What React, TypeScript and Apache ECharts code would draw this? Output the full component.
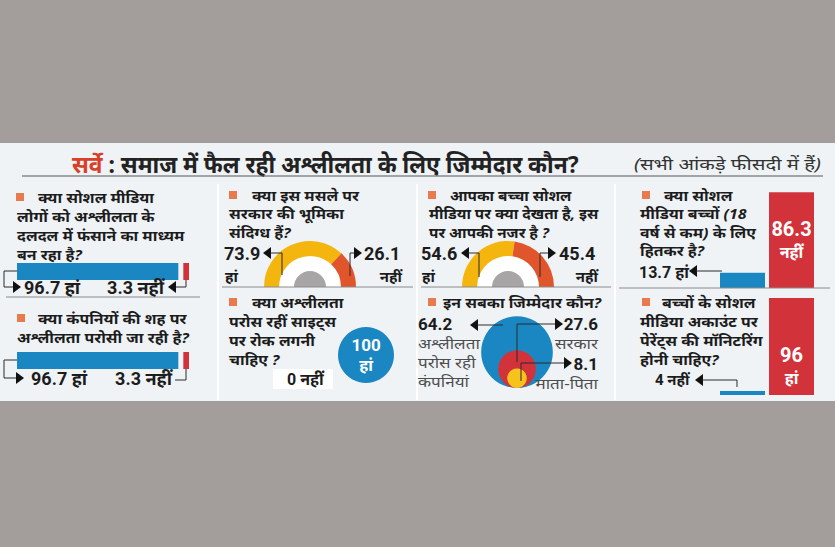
import React, { useEffect, useRef } from 'react';
import * as echarts from 'echarts';

// ---------- data ----------
const titleLead = 'सर्वे';
const titleMain = 'समाज में फैल रही अश्लीलता के लिए जिम्मेदार कौन?';
const noteText = '(सभी आंकड़े फीसदी में हैं)';
const yesLabel = 'हां';
const noLabel = 'नहीं';

const q1Lines = ['क्या सोशल मीडिया', 'लोगों को अश्लीलता के', 'दलदल में फंसाने का माध्यम', 'बन रहा है?'];
const q1Values = [96.7, 3.3];
const q2Lines = ['क्या कंपनियों की शह पर', 'अश्लीलता परोसी जा रही है?'];
const q2Values = [96.7, 3.3];
const q3Lines = ['क्या इस मसले पर', 'सरकार की भूमिका', 'संदिग्ध हैं?'];
const q3Values = [73.9, 26.1];
const q4Lines = ['क्या अश्लीलता', 'परोस रहीं साइट्स', 'पर रोक लगनी', 'चाहिए ?'];
const q4Values = [100, 0];
const q5Lines = ['आपका बच्चा सोशल', 'मीडिया पर क्या देखता है, इस', 'पर आपकी नजर है ?'];
const q5Values = [54.6, 45.4];
const q6Lines = ['इन सबका जिम्मेदार कौन?'];
const q6Values = [64.2, 27.6, 8.1];
const q6Names = [['अश्लीलता', 'परोस रही', 'कंपनियां'], ['सरकार'], ['माता-पिता']];
const q7Lines = ['क्या सोशल', 'मीडिया बच्चों (18', 'वर्ष से कम) के लिए', 'हितकर है?'];
const q7Cats = [yesLabel, noLabel];
const q7Values = [13.7, 86.3];
const q8Lines = ['बच्चों के सोशल', 'मीडिया अकाउंट पर', 'पेरेंट्स की मॉनिटरिंग', 'होनी चाहिए?'];
const q8Cats = [noLabel, yesLabel];
const q8Values = [4, 96];

// ---------- styles ----------
const BG = '#a39d9b';
const PANEL = '#eff3f6';
const BLUE = '#1b87c2';
const RED = '#d2333a';
const YELLOW = '#f4b50f';
const ORANGE = '#e1552c';
const BUB_YELLOW = '#f6c21b';
const SQUARE = '#e97a4e';
const INK = '#1c1c1c';
const GRAYTXT = '#4d4d4d';
const FONT = "'Noto Sans', 'Open Sans', sans-serif";
const NUMFONT = "Roboto, 'Noto Sans', sans-serif";

function txt(text: string, x: number, y: number, o: any = {}) {
  return {
    type: 'text', x, y, z: 20, scaleX: o.sx ?? 1, silent: true,
    style: {
      text, fill: o.color ?? INK, fontSize: o.size ?? 16, fontWeight: o.weight ?? 'normal',
      fontStyle: o.italic ? 'italic' : 'normal', fontFamily: o.family ?? FONT,
      align: o.align ?? 'left', verticalAlign: 'middle',
      textAlign: o.align ?? 'left', textVerticalAlign: 'middle',
      rich: o.rich,
    },
  };
}
function line(points: number[][], color = '#2a2a2a', w = 1) {
  return { type: 'polyline', z: 20, silent: true, shape: { points }, style: { stroke: color, lineWidth: w, fill: null } };
}
function arrowL(x: number, y: number) {
  return { type: 'polygon', z: 20, silent: true, shape: { points: [[x, y], [x + 8, y - 6], [x + 8, y + 6]] }, style: { fill: '#111' } };
}
function arrowR(x: number, y: number) {
  return { type: 'polygon', z: 20, silent: true, shape: { points: [[x, y], [x - 8, y - 6], [x - 8, y + 6]] }, style: { fill: '#111' } };
}
function question(lines: string[], sqX: number, sqY: number, firstX: number, restX: number, y0: number, lh: number, sx = 1.06) {
  const els: any[] = [{ type: 'rect', z: 20, silent: true, shape: { x: sqX, y: sqY, width: 8, height: 8 }, style: { fill: SQUARE } }];
  lines.forEach((l, i) => {
    els.push(txt(l, i === 0 ? firstX : restX, y0 + i * lh, { size: 15, weight: 'bold', italic: true, sx }));
  });
  return els;
}

function gapBar(params: any, api: any) {
  const s = api.value(0);
  const e = api.value(1);
  const p0 = api.coord([s, 0]);
  const p1 = api.coord([e, 0]);
  const h = api.size([0, 1])[1];
  let x1 = p1[0];
  if (e < 100) x1 -= 5;
  return {
    type: 'rect',
    shape: { x: p0[0], y: p0[1] - h / 2, width: x1 - p0[0], height: h },
    style: { fill: api.visual('color') },
  };
}
function gapData(vals: number[]) {
  let acc = 0;
  return vals.map((v, i) => {
    const item = { value: [acc, acc + v], itemStyle: { color: i === 0 ? BLUE : RED } };
    acc += v;
    return item;
  });
}
function bubbleSize(v: number) {
  return 12 + 0.93 * v;
}
const barLabelRich = {
  n: { color: '#fff', fontSize: 20, fontWeight: 'bold', fontFamily: NUMFONT, lineHeight: 23 },
  t: { color: '#fff', fontSize: 16, fontWeight: 'bold', fontFamily: FONT, lineHeight: 23 },
};

export default function App() {
  const ref = useRef<HTMLDivElement>(null);
  useEffect(() => {
    const chart = echarts.init(ref.current!, undefined, { renderer: 'svg' });

    const graphics: any[] = [
      { type: 'rect', z: 0, silent: true, shape: { x: 0, y: 143, width: 835, height: 258 }, style: { fill: PANEL } },
      // title
      txt(`{r|${titleLead}} : ${titleMain}`, 72, 164, {
        size: 24, weight: 'bold', color: '#222', sx: 0.95,
        rich: { r: { fill: '#d8402a', color: '#d8402a', fontSize: 24, fontWeight: 'bold', fontFamily: FONT } },
      }),
      txt(noteText, 634, 163, { size: 16, italic: true, color: '#333', sx: 1.27 }),
      line([[22, 176], [823, 176]], '#555', 1),
      // dividers
      line([[218, 184], [218, 400]], '#ffffff', 2),
      line([[417, 184], [417, 400]], '#ffffff', 2),
      line([[615, 184], [615, 400]], '#ffffff', 2),
      line([[6, 297], [200, 297]], '#8a8a8a', 1),
      line([[222, 287], [413, 287]], '#8a8a8a', 1),
      line([[421, 287], [611, 287]], '#8a8a8a', 1),
      line([[619, 288], [830, 288]], '#8a8a8a', 1),
      // questions
      ...question(q1Lines, 16, 193, 38, 17, 197, 19),
      ...question(q2Lines, 17, 314, 38, 17, 318, 19),
      ...question(q3Lines, 229, 191, 252, 229, 195, 18.5),
      ...question(q4Lines, 229, 298, 252, 229, 302, 19),
      ...question(q5Lines, 428, 191, 450, 429, 195, 18.5, 1.02),
      ...question(q6Lines, 428, 298, 443, 429, 302, 19),
      ...question(q7Lines, 642, 191, 664, 640, 195, 18.5),
      ...question(q8Lines, 642, 298, 662, 640, 302, 19),

      // panel 1 labels
      line([[17, 271], [4, 271], [4, 287], [14, 287]]),
      arrowR(21, 287),
      txt(`${q1Values[0]} ${yesLabel}`, 24, 287, { size: 18, weight: 'bold', family: NUMFONT }),
      line([[186, 280], [186, 287], [176, 287]]),
      arrowL(168, 287),
      txt(`${q1Values[1]} ${noLabel}`, 164, 287, { size: 18, weight: 'bold', family: NUMFONT, align: 'right' }),
      // panel 2 labels
      line([[17, 360], [4, 360], [4, 378], [17, 378]]),
      arrowR(24, 378),
      txt(`${q2Values[0]} ${yesLabel}`, 31, 378, { size: 18, weight: 'bold', family: NUMFONT }),
      txt(`${q2Values[1]} ${noLabel}`, 172, 378, { size: 18, weight: 'bold', family: NUMFONT, align: 'right' }),
      line([[175, 380], [186, 380], [186, 369]]),

      // panel 3 labels
      txt(`${q3Values[0]}`, 224, 253, { size: 18, weight: 'bold', family: NUMFONT }),
      txt(yesLabel, 225, 276, { size: 15, weight: 'bold' }),
      arrowL(263, 253),
      line([[270, 253], [282, 253], [282, 275]]),
      line([[350, 276], [350, 253], [355, 253]]),
      arrowR(362, 253),
      txt(`${q3Values[1]}`, 364, 253, { size: 18, weight: 'bold', family: NUMFONT }),
      txt(noLabel, 402, 276, { size: 15, weight: 'bold', align: 'right' }),

      // panel 4 label
      { type: 'rect', z: 19, silent: true, shape: { x: 273, y: 369, width: 60, height: 20 }, style: { fill: '#ffffff' } },
      txt(`${q4Values[1]} ${noLabel}`, 287, 379, { size: 16, weight: 'bold', family: NUMFONT }),

      // panel 5 labels
      txt(`${q5Values[0]}`, 421, 253, { size: 18, weight: 'bold', family: NUMFONT }),
      txt(yesLabel, 422, 276, { size: 15, weight: 'bold' }),
      arrowL(461, 253),
      line([[468, 253], [479, 253], [479, 277]]),
      line([[540, 277], [540, 253], [549, 253]]),
      arrowR(556, 253),
      txt(`${q5Values[1]}`, 559, 253, { size: 18, weight: 'bold', family: NUMFONT }),
      txt(noLabel, 598, 276, { size: 15, weight: 'bold', align: 'right' }),

      // panel 6 labels
      txt(`${q6Values[0]}`, 418, 324, { size: 17, weight: 'bold', family: NUMFONT }),
      ...q6Names[0].map((n, i) => txt(n, 418, 344 + i * 19, { size: 14, color: GRAYTXT, sx: 1.22 })),
      arrowL(470, 325),
      line([[477, 325], [503, 325]]),
      line([[517, 362], [517, 324], [556, 324]]),
      arrowR(563, 324),
      txt(`${q6Values[1]}`, 598, 324, { size: 17, weight: 'bold', family: NUMFONT, align: 'right' }),
      txt(q6Names[1][0], 598, 344, { size: 14, color: GRAYTXT, align: 'right', sx: 1.22 }),
      line([[521, 381], [521, 363], [565, 363]]),
      arrowR(572, 363),
      txt(`${q6Values[2]}`, 598, 364, { size: 17, weight: 'bold', family: NUMFONT, align: 'right' }),
      txt(q6Names[2][0], 598, 384, { size: 14, color: GRAYTXT, align: 'right', sx: 1.22 }),

      // panel 7 labels
      txt(`${q7Values[0]} ${q7Cats[0]}`, 639, 272, { size: 16, weight: 'bold', family: NUMFONT }),
      arrowL(689, 271),
      line([[696, 271], [722, 271]]),

      // panel 8 labels
      txt(`${q8Values[0]} ${q8Cats[0]}`, 655, 380, { size: 15, weight: 'bold', family: NUMFONT }),
      arrowL(695, 380),
      line([[702, 380], [737, 380], [737, 387]]),
    ];

    const halfDonut = (center: number[], vals: number[]) => [
      {
        type: 'pie', silent: true, center, radius: [0, 31], startAngle: 180, endAngle: 0,
        label: { show: false }, labelLine: { show: false }, z: 1,
        data: [{ value: 1, itemStyle: { color: '#ffffff' } }],
      },
      {
        type: 'pie', silent: true, center, radius: [0, 16], startAngle: 180, endAngle: 0,
        label: { show: false }, labelLine: { show: false }, z: 2,
        data: [{ value: 1, itemStyle: { color: '#a7a5a5' } }],
      },
      {
        type: 'pie', silent: true, center, radius: [31, 46], startAngle: 180, endAngle: 0,
        label: { show: false }, labelLine: { show: false }, z: 2,
        data: [
          { value: vals[0], name: yesLabel, itemStyle: { color: YELLOW } },
          { value: vals[1], name: noLabel, itemStyle: { color: ORANGE } },
        ],
      },
    ];

    const option: any = {
      animation: false,
      backgroundColor: BG,
      grid: [
        { left: 17, top: 263, width: 172, height: 17 },
        { left: 17, top: 352, width: 172, height: 17 },
        { left: 470, top: 300, width: 94, height: 88 },
        { left: 718, top: 177, width: 98, height: 111 },
        { left: 718, top: 294, width: 98, height: 101 },
      ],
      xAxis: [
        { gridIndex: 0, type: 'value', min: 0, max: 100, show: false },
        { gridIndex: 1, type: 'value', min: 0, max: 100, show: false },
        { gridIndex: 2, type: 'value', min: 0, max: 1, show: false },
        { gridIndex: 3, type: 'category', data: q7Cats, show: false },
        { gridIndex: 4, type: 'category', data: q8Cats, show: false },
      ],
      yAxis: [
        { gridIndex: 0, type: 'category', data: ['q1'], show: false },
        { gridIndex: 1, type: 'category', data: ['q2'], show: false },
        { gridIndex: 2, type: 'value', min: 0, max: 1, show: false },
        { gridIndex: 3, type: 'value', min: 0, max: 100, show: false },
        { gridIndex: 4, type: 'value', min: 0, max: 100, show: false },
      ],
      graphic: { elements: graphics },
      series: [
        { type: 'custom', xAxisIndex: 0, yAxisIndex: 0, renderItem: gapBar, silent: true, data: gapData(q1Values) },
        { type: 'custom', xAxisIndex: 1, yAxisIndex: 1, renderItem: gapBar, silent: true, data: gapData(q2Values) },
        ...halfDonut([310, 287], q3Values),
        ...halfDonut([508, 287], q5Values),
        {
          type: 'pie', silent: true, center: [366, 355], radius: [0, 28],
          label: { show: false }, labelLine: { show: false },
          data: [
            {
              value: q4Values[0], name: yesLabel, itemStyle: { color: BLUE },
              label: {
                show: true, position: 'center', formatter: `{n|${q4Values[0]}}\n{t|${yesLabel}}`,
                rich: {
                  n: { color: '#fff', fontSize: 17, fontWeight: 'bold', fontFamily: NUMFONT, lineHeight: 20 },
                  t: { color: '#fff', fontSize: 16, fontWeight: 'bold', fontFamily: FONT, lineHeight: 20 },
                },
              },
            },
            { value: q4Values[1], name: noLabel, itemStyle: { color: RED } },
          ],
        },
        {
          type: 'scatter', xAxisIndex: 2, yAxisIndex: 2, silent: true,
          data: q6Values.map((v, i) => ({
            value: [0.5, 0],
            symbolSize: bubbleSize(v),
            symbolOffset: [0, -bubbleSize(v) / 2],
            itemStyle: { color: [BLUE, RED, BUB_YELLOW][i], opacity: 1 },
          })),
        },
        {
          type: 'bar', xAxisIndex: 3, yAxisIndex: 3, barWidth: 45, silent: true,
          data: q7Values.map((v, i) => ({
            value: v,
            itemStyle: { color: i === 0 ? BLUE : RED },
            label: i === 1 ? {
              show: true, position: 'inside', formatter: `{n|${v}}\n{t|${q7Cats[i]}}`,
              rich: barLabelRich,
            } : { show: false },
          })),
        },
        {
          type: 'bar', xAxisIndex: 4, yAxisIndex: 4, barWidth: 45, silent: true,
          data: q8Values.map((v, i) => ({
            value: v,
            itemStyle: { color: i === 0 ? BLUE : RED },
            label: i === 1 ? {
              show: true, position: 'insideBottom', distance: 6, formatter: `{n|${v}}\n{t|${q8Cats[i]}}`,
              rich: barLabelRich,
            } : { show: false },
          })),
        },
      ],
    };
    chart.setOption(option);
    return () => chart.dispose();
  }, []);
  return <div ref={ref} style={{ position: 'absolute', left: 0, top: 0, width: 835, height: 547 }} />;
}
